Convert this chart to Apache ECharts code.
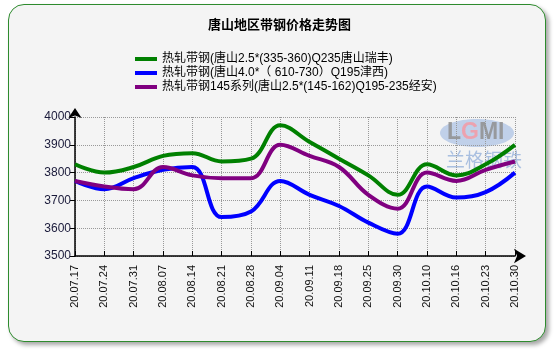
<!DOCTYPE html>
<html>
<head>
<meta charset="utf-8">
<script src="https://cdn.jsdelivr.net/npm/echarts@6/dist/echarts.min.js"></script>
<style>
  html, body { margin: 0; padding: 0; background: #fff; }
  #frame {
    position: absolute; left: 8px; top: 4px; width: 536px; height: 336px;
    border: 1.5px solid #2e8b2e; border-radius: 16px; background: #f4f4f4;
    box-shadow: 3px 3px 4px rgba(0,0,0,0.35);
  }
  #priceChart { position: absolute; left: 0; top: 0; width: 559px; height: 351px; }
</style>
</head>
<body>
<div id="frame"></div>
<div id="priceChart"></div>
<script>
// 日期
const dates = ['20.07.17','20.07.24','20.07.31','20.08.07','20.08.14','20.08.21','20.08.28','20.09.04',
  '20.09.11','20.09.18','20.09.25','20.09.30','20.10.10','20.10.16','20.10.23','20.10.30'];
// 唐山瑞丰
const ruifeng = [3830, 3800, 3820, 3860, 3870, 3840, 3850, 3970, 3910, 3850, 3790, 3720, 3830, 3790, 3830, 3900];
// 津西
const jinxi = [3770, 3740, 3780, 3810, 3820, 3640, 3660, 3770, 3720, 3680, 3620, 3580, 3750, 3710, 3730, 3800];
// 经安
const jingan = [3770, 3750, 3740, 3820, 3790, 3780, 3780, 3900, 3860, 3820, 3720, 3670, 3800, 3770, 3810, 3840];
const yTicks = [3500, 3600, 3700, 3800, 3900, 4000];

const seriesNames = [
  '热轧带钢(唐山2.5*(335-360)Q235唐山瑞丰)',
  '热轧带钢(唐山4.0*（ 610-730）Q195津西)',
  '热轧带钢145系列(唐山2.5*(145-162)Q195-235经安)'
];
const fontFam = '"Liberation Sans", Arial, "Noto Sans CJK SC", sans-serif';

const chart = echarts.init(document.getElementById('priceChart'));
const option = {
  backgroundColor: 'transparent',
  animation: false,
  textStyle: { fontFamily: fontFam },
  title: {
    text: '唐山地区带钢价格走势图',
    left: 'center',
    top: 14,
    textStyle: { fontSize: 13, fontWeight: 'bold', color: '#000', fontFamily: fontFam }
  },
  legend: {
    orient: 'vertical',
    left: 130,
    top: 48,
    itemWidth: 22,
    itemHeight: 4,
    itemGap: 2,
    icon: 'rect',
    textStyle: { fontSize: 12, color: '#000', fontFamily: fontFam },
    data: seriesNames
  },
  graphic: [
    {
      type: 'ellipse', shape: { cx: 477, cy: 133, rx: 37, ry: 14 },
      style: { fill: '#a9c0e4', opacity: 0.7 }, z: 0
    },
    {
      type: 'text', left: 447, top: 121, z: 1,
      style: {
        text: '{a|L}{b|G}{a|MI}',
        opacity: 0.85,
        rich: {
          a: { fontSize: 23, fontWeight: 'bold', fill: '#8f8f8f', fontFamily: fontFam },
          b: { fontSize: 23, fontWeight: 'bold', fill: '#f39aa4', fontFamily: fontFam }
        }
      }
    },
    {
      type: 'text', left: 446, top: 150, z: 0,
      style: { text: '兰格钢铁', fontSize: 19, fill: '#a9bfe0', fontFamily: '"Noto Sans CJK SC", sans-serif' }
    }
  ],
  grid: { left: 75, right: 44, top: 117, bottom: 95 },
  xAxis: {
    type: 'category',
    data: dates,
    boundaryGap: false,
    axisLine: {
      lineStyle: { color: '#000', width: 1.5 },
      symbol: ['none', 'arrow'], symbolSize: [11, 12], symbolOffset: [0, 11]
    },
    axisTick: { inside: true, length: 5, lineStyle: { color: '#000' } },
    axisLabel: { rotate: 90, color: '#111', fontSize: 11, margin: 9, interval: 0, fontFamily: fontFam },
    splitLine: { show: true, lineStyle: { color: '#999', type: 'dotted', width: 1 } }
  },
  yAxis: {
    type: 'value',
    min: yTicks[0],
    max: yTicks[yTicks.length - 1],
    interval: 100,
    axisLine: {
      show: true,
      lineStyle: { color: '#000', width: 1.5 },
      symbol: ['none', 'arrow'], symbolSize: [10, 10], symbolOffset: [0, 9]
    },
    axisTick: { show: true, length: 5, lineStyle: { color: '#000' } },
    axisLabel: { color: '#1a1a3a', fontSize: 12, margin: 4, fontFamily: fontFam, formatter: v => String(v) },
    splitLine: { show: true, lineStyle: { color: '#999', type: 'dotted', width: 1 } }
  },
  series: [
    { name: seriesNames[0], type: 'line', data: ruifeng, smooth: 0.4, showSymbol: false, color: '#008000', lineStyle: { width: 4 }, z: 3 },
    { name: seriesNames[1], type: 'line', data: jinxi, smooth: 0.4, showSymbol: false, color: '#0000ff', lineStyle: { width: 4 }, z: 3 },
    { name: seriesNames[2], type: 'line', data: jingan, smooth: 0.4, showSymbol: false, color: '#800080', lineStyle: { width: 4 }, z: 4 }
  ]
};
chart.setOption(option);
</script>
</body>
</html>
